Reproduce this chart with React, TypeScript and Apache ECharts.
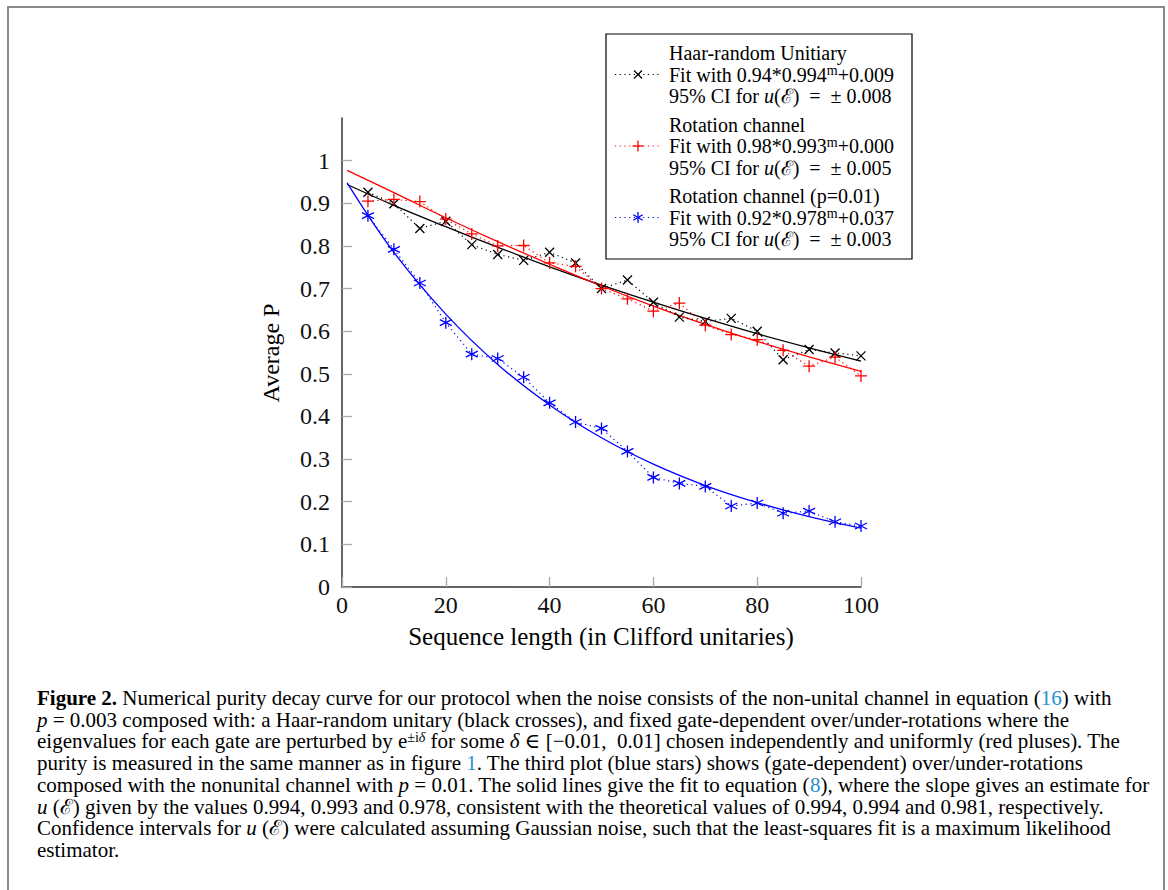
import React, { useEffect, useRef } from "react";
import * as echarts from "echarts";

const seqLengths = [5, 10, 15, 20, 25, 30, 35, 40, 45, 50, 55, 60, 65, 70, 75, 80, 85, 90, 95, 100];
const haarValues = [0.926, 0.899, 0.841, 0.858, 0.803, 0.78, 0.766, 0.785, 0.76, 0.7, 0.72, 0.668, 0.633, 0.623, 0.63, 0.6, 0.533, 0.557, 0.549, 0.542];
const rotValues = [0.905, 0.909, 0.904, 0.863, 0.828, 0.8, 0.801, 0.76, 0.752, 0.7, 0.676, 0.647, 0.666, 0.614, 0.592, 0.58, 0.555, 0.518, 0.539, 0.495];
const rotPValues = [0.871, 0.792, 0.713, 0.62, 0.546, 0.536, 0.492, 0.432, 0.387, 0.372, 0.318, 0.257, 0.243, 0.236, 0.19, 0.197, 0.173, 0.178, 0.153, 0.143];

const fitX = [1, 10, 20, 30, 40, 50, 60, 70, 80, 90, 100];
const haarFit = [0.944, 0.895, 0.845, 0.797, 0.751, 0.708, 0.668, 0.63, 0.594, 0.561, 0.53];
const rotFit = [0.977, 0.925, 0.866, 0.81, 0.757, 0.706, 0.659, 0.616, 0.576, 0.54, 0.506];
const rotPFit = [0.948, 0.785, 0.64, 0.522, 0.427, 0.35, 0.288, 0.238, 0.198, 0.165, 0.138];

const yTickValues = [0, 0.1, 0.2, 0.3, 0.4, 0.5, 0.6, 0.7, 0.8, 0.9, 1];

const legendEntries = [
  { title: "Haar-random Unitiary", a: "0.94", u: "0.994", c: "+0.009", ci: "0.008", color: "#000000", marker: "cross" },
  { title: "Rotation channel", a: "0.98", u: "0.993", c: "+0.000", ci: "0.005", color: "#ff0000", marker: "plus" },
  { title: "Rotation channel (p=0.01)", a: "0.92", u: "0.978", c: "+0.037", ci: "0.003", color: "#0000ff", marker: "star" },
];

type Seg = { t: string; s?: string };

const captionLines: Seg[][] = [
  [{ t: "Figure 2.", s: "b" }, { t: " Numerical purity decay curve for our protocol when the noise consists of the non-unital channel in equation (" }, { t: "16", s: "l" }, { t: ") with" }],
  [{ t: "p", s: "i" }, { t: " = 0.003 composed with: a Haar-random unitary (black crosses), and fixed gate-dependent over/under-rotations where the" }],
  [{ t: "eigenvalues for each gate are perturbed by e" }, { t: "±i", s: "s" }, { t: "δ", s: "si" }, { t: " for some " }, { t: "δ", s: "i" }, { t: " ∈ [−0.01,  0.01] chosen independently and uniformly (red pluses). The" }],
  [{ t: "purity is measured in the same manner as in figure " }, { t: "1", s: "l" }, { t: ". The third plot (blue stars) shows (gate-dependent) over/under-rotations" }],
  [{ t: "composed with the nonunital channel with " }, { t: "p", s: "i" }, { t: " = 0.01. The solid lines give the fit to equation (" }, { t: "8", s: "l" }, { t: "), where the slope gives an estimate for" }],
  [{ t: "u", s: "i" }, { t: " (ℰ) given by the values 0.994, 0.993 and 0.978, consistent with the theoretical values of 0.994, 0.994 and 0.981, respectively." }],
  [{ t: "Confidence intervals for " }, { t: "u", s: "i" }, { t: " (ℰ) were calculated assuming Gaussian noise, such that the least-squares fit is a maximum likelihood" }],
  [{ t: "estimator." }],
];

const FONT = '"Liberation Serif", "DejaVu Serif", serif';
const LINK = "#2a8ecf";

let measureCtx: CanvasRenderingContext2D | null = null;
function measure(text: string, size: number, italic?: boolean, bold?: boolean) {
  if (!measureCtx) measureCtx = document.createElement("canvas").getContext("2d");
  if (!measureCtx) return text.length * size * 0.45;
  measureCtx.font = `${italic ? "italic " : ""}${bold ? "bold " : ""}${size}px ${FONT}`;
  return measureCtx.measureText(text).width;
}

function richStyles(size: number, lh: number) {
  const base = { fontSize: size, fontFamily: FONT, color: "#000", fill: "#000", lineHeight: lh, verticalAlign: "middle" };
  const sup = { ...base, fontSize: Math.round(size * 0.68), lineHeight: Math.round(lh * 0.4), verticalAlign: "top" };
  return {
    n: base,
    b: { ...base, fontWeight: "bold" },
    i: { ...base, fontStyle: "italic" },
    l: { ...base, color: LINK, fill: LINK },
    s: sup,
    si: { ...sup, fontStyle: "italic" },
  };
}

function richString(segs: Seg[]) {
  return segs.map((g) => `{${g.s || "n"}|${g.t}}`).join("");
}

function richText(segs: Seg[], x: number, y: number, size: number, lh: number, z = 1, align = "left") {
  return {
    type: "text",
    silent: true,
    z,
    style: {
      text: richString(segs),
      rich: richStyles(size, lh),
      x,
      y,
      fill: "#000",
      fontSize: size,
      fontFamily: FONT,
      align,
      verticalAlign: "middle",
      textAlign: align,
      textVerticalAlign: "middle",
    },
  };
}

function markerEls(kind: string, cx: number, cy: number, r: number, color: string) {
  const ls = { stroke: color, lineWidth: 1.3 };
  const L = (x1: number, y1: number, x2: number, y2: number) => ({ type: "line", silent: true, z: 11, shape: { x1, y1, x2, y2 }, style: ls });
  if (kind === "cross") return [L(cx - r, cy - r, cx + r, cy + r), L(cx - r, cy + r, cx + r, cy - r)];
  if (kind === "plus") return [L(cx - r, cy, cx + r, cy), L(cx, cy - r, cx, cy + r)];
  const dx = r * 0.866, dy = r * 0.5;
  return [L(cx, cy - r, cx, cy + r), L(cx - dx, cy - dy, cx + dx, cy + dy), L(cx - dx, cy + dy, cx + dx, cy - dy)];
}

const SYMBOLS: Record<string, string> = {
  cross: "path://M0,0L10,10M10,0L0,10",
  plus: "path://M5,0L5,10M0,5L10,5",
  star: "path://M5,0L5,10M0.67,2.5L9.33,7.5M0.67,7.5L9.33,2.5",
};

export default function App() {
  const ref = useRef<HTMLDivElement>(null);
  useEffect(() => {
    if (!ref.current) return;
    const chart = echarts.init(ref.current, undefined, { renderer: "svg" });

    const graphics: any[] = [];
    graphics.push({ type: "rect", silent: true, shape: { x: 8, y: 7, width: 1156, height: 920 }, style: { fill: "none", stroke: "#8a8a8a", lineWidth: 2 } });

    // axis names
    graphics.push(richText([{ t: "Sequence length (in Clifford unitaries)" }], 601, 636, 25, 28, 1, "center"));
    graphics.push({ ...richText([{ t: "Average P" }], 0, 0, 24, 28, 1, "center"), x: 271, y: 353, rotation: Math.PI / 2 });

    // legend
    graphics.push({ type: "rect", silent: true, shape: { x: 606, y: 34, width: 306, height: 225 }, style: { fill: "#fff", stroke: "#000", lineWidth: 1.2 }, z: 10 });
    const legTop = [53, 124.5, 196];
    legendEntries.forEach((e, k) => {
      const y0 = legTop[k];
      const lsz = 20;
      const ys = [y0, y0 + 21.5, y0 + 43];
      graphics.push(richText([{ t: e.title }], 669, ys[0], lsz, 22, 11));
      graphics.push(richText([{ t: "Fit with " + e.a + "*" + e.u }, { t: "m", s: "s" }, { t: e.c }], 669, ys[1], lsz, 22, 11));
      graphics.push(richText([{ t: "95% CI for " }, { t: "u", s: "i" }, { t: "(ℰ)  =  ± " + e.ci }], 669, ys[2], lsz, 22, 11));
      graphics.push({ type: "line", silent: true, z: 11, shape: { x1: 615, y1: ys[1], x2: 661, y2: ys[1] }, style: { stroke: e.color, lineWidth: 1.2, lineDash: [1.2, 3.5] } });
      graphics.push(...markerEls(e.marker, 638, ys[1], e.marker === "cross" ? 4 : 5.5, e.color));
    });

    // caption
    const baseSize = 19;
    const line1W = captionLines[0].reduce((s, g) => s + measure(g.t, baseSize, g.s === "i", g.s === "b"), 0);
    let capSize = baseSize * (1077 / line1W);
    capSize = Math.max(16, Math.min(21, capSize));
    captionLines.forEach((segs, i) => {
      graphics.push(richText(segs, 37, 698 + i * 21.7, capSize, 21));
    });

    const fitSeries = (data: number[], color: string) => ({
      type: "line",
      data: fitX.map((x, i) => [x, data[i]]),
      smooth: 0.4,
      showSymbol: false,
      symbol: "none",
      lineStyle: { color, width: 1.3 },
      silent: true,
      z: 2,
    });
    const dataSeries = (name: string, data: number[], color: string, sym: string, size: number) => ({
      name,
      type: "line",
      data: seqLengths.map((x, i) => [x, data[i]]),
      symbol: SYMBOLS[sym],
      symbolSize: size,
      lineStyle: { color, width: 1.2, type: [1.2, 3.5] },
      itemStyle: { color: "none", borderColor: color, borderWidth: 1.3 },
      silent: true,
      z: 3,
    });

    chart.setOption({
      animation: false,
      backgroundColor: "#fff",
      grid: { left: 342, right: 1168 - 861, top: 118, bottom: 890 - 587, containLabel: false },
      xAxis: {
        type: "value",
        min: 0,
        max: 100,
        interval: 20,
        axisLine: { lineStyle: { color: "#333", width: 1.5 } },
        axisTick: { inside: true, length: 10, lineStyle: { color: "#aaa", width: 1.3 } },
        axisLabel: { fontSize: 24, fontFamily: FONT, color: "#111", margin: 6 },
        splitLine: { show: false },
      },
      yAxis: {
        type: "value",
        min: 0,
        max: 1.1,
        interval: 0.1,
        axisLine: { show: true, lineStyle: { color: "#333", width: 1.5 } },
        axisTick: { show: true, inside: true, length: 10, lineStyle: { color: "#aaa", width: 1.3 }, customValues: yTickValues },
        axisLabel: {
          fontSize: 24,
          fontFamily: FONT,
          color: "#111",
          margin: 12,
          customValues: yTickValues,
          formatter: (v: number) => String(+v.toFixed(1)),
        },
        splitLine: { show: false },
      },
      series: [
        fitSeries(haarFit, "#000000"),
        fitSeries(rotFit, "#ff0000"),
        fitSeries(rotPFit, "#0000ff"),
        dataSeries("Haar-random Unitiary", haarValues, "#000000", "cross", 9),
        dataSeries("Rotation channel", rotValues, "#ff0000", "plus", 12),
        dataSeries("Rotation channel (p=0.01)", rotPValues, "#0000ff", "star", 12),
      ],
      graphic: { elements: graphics },
    });
    return () => chart.dispose();
  }, []);
  return <div ref={ref} style={{ position: "fixed", left: 0, top: 0, width: 1168, height: 890 }} />;
}
